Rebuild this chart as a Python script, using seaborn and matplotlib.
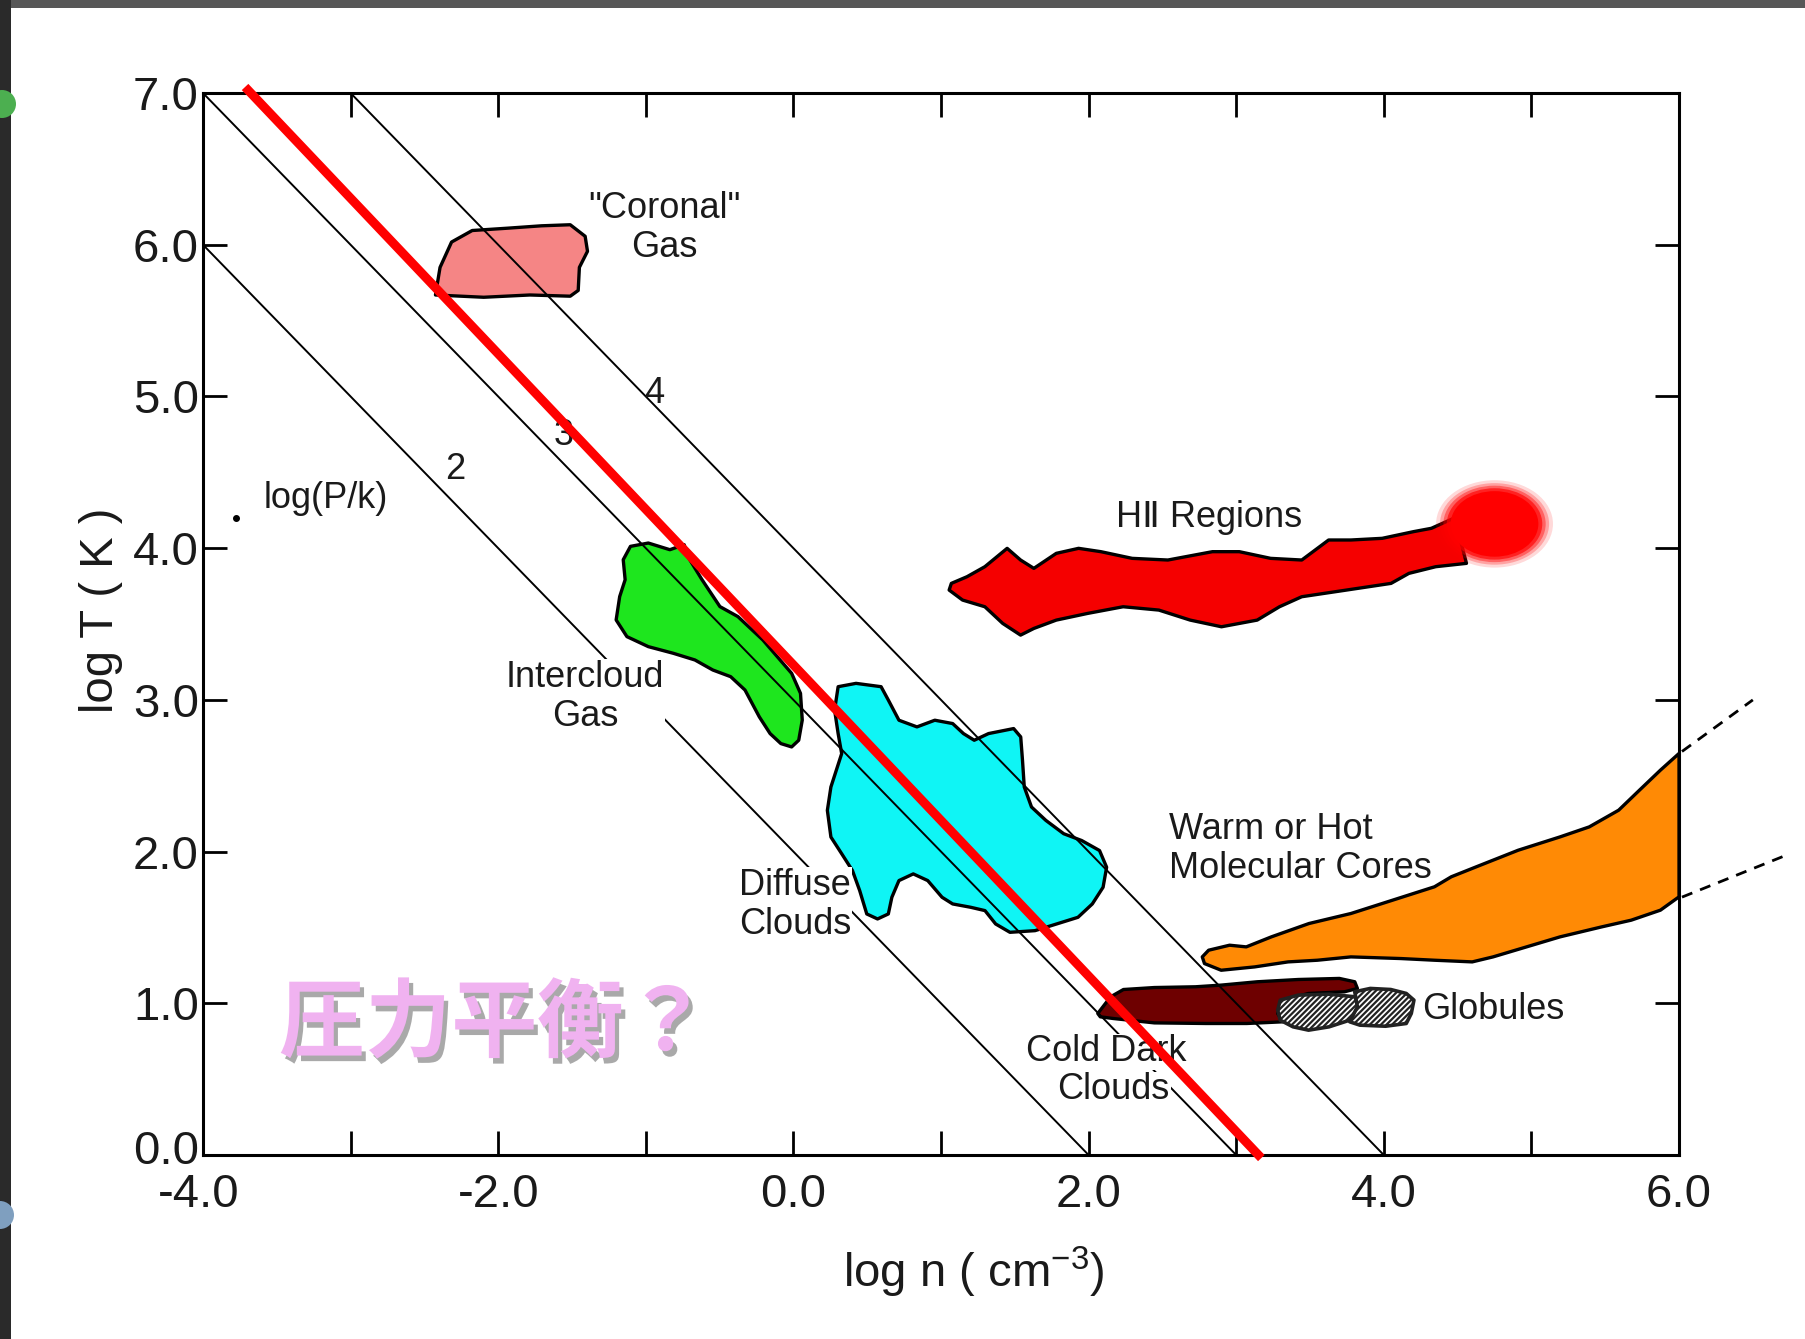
import matplotlib
matplotlib.use("Agg")
import matplotlib.pyplot as plt
import matplotlib.patheffects as pe
from matplotlib.patches import Ellipse, Rectangle, Circle
from matplotlib.transforms import IdentityTransform, ScaledTranslation
from matplotlib import font_manager as fm
import seaborn as sns

# ---------------- data ----------------
x_ticks = [-4, -3, -2, -1, 0, 1, 2, 3, 4, 5, 6]
x_ticklabels = ["-4.0", "", "-2.0", "", "0.0", "", "2.0", "", "4.0", "", "6.0"]
y_ticks = [0, 1, 2, 3, 4, 5, 6, 7]
y_ticklabels = ["0.0", "1.0", "2.0", "3.0", "4.0", "5.0", "6.0", "7.0"]

# constant-pressure lines log(P/k) = 2, 3, 4
pk_labels = ["2", "3", "4"]
pk_n = [[-4.0, 2.0], [-4.0, 3.0], [-3.0, 4.0]]
pk_T = [[6.0, 0.0], [7.0, 0.0], [7.0, 0.0]]

# red "pressure balance" line
red_n = [-3.715, 3.17]
red_T = [7.04, -0.02]

coronal_n = [-2.425, -2.394, -2.316, -2.176, -1.941, -1.707, -1.512, -1.411, -1.395,
             -1.450, -1.458, -1.512, -1.785, -2.098]
coronal_T = [5.669, 5.851, 6.018, 6.094, 6.109, 6.125, 6.132, 6.056, 5.957,
             5.851, 5.699, 5.661, 5.669, 5.654]

intercloud_n = [-1.104, -0.983, -0.837, -0.740, -0.716, -0.619, -0.498, -0.376, -0.207,
                -0.012, 0.048, 0.060, 0.036, -0.012, -0.085, -0.158, -0.231, -0.328,
                -0.425, -0.546, -0.667, -0.813, -0.983, -1.128, -1.201, -1.177, -1.140, -1.153]
intercloud_T = [4.012, 4.034, 3.990, 4.023, 3.946, 3.792, 3.615, 3.549, 3.395,
                3.175, 3.043, 2.867, 2.734, 2.690, 2.712, 2.778, 2.888, 3.065,
                3.153, 3.197, 3.263, 3.307, 3.351, 3.417, 3.527, 3.681, 3.792, 3.924]

diffuse_n = [0.303, 0.424, 0.594, 0.643, 0.715, 0.837, 0.958, 1.079, 1.152, 1.225, 1.322,
             1.492, 1.540, 1.552, 1.564, 1.613, 1.710, 1.831, 1.953, 2.074, 2.122, 2.098,
             2.025, 1.928, 1.783, 1.637, 1.467, 1.370, 1.298, 1.201, 1.079, 1.007, 0.910,
             0.812, 0.715, 0.667, 0.643, 0.570, 0.497, 0.449, 0.400, 0.327, 0.254, 0.230,
             0.254, 0.327, 0.303, 0.279]
diffuse_T = [3.087, 3.109, 3.087, 2.999, 2.866, 2.822, 2.866, 2.844, 2.778, 2.734, 2.778,
             2.811, 2.756, 2.602, 2.426, 2.294, 2.206, 2.118, 2.073, 2.007, 1.897, 1.765,
             1.655, 1.567, 1.523, 1.479, 1.468, 1.523, 1.611, 1.633, 1.655, 1.699, 1.809,
             1.853, 1.809, 1.699, 1.589, 1.556, 1.589, 1.743, 1.875, 1.986, 2.096, 2.272,
             2.426, 2.646, 2.778, 2.933]

hii_n = [1.070, 1.176, 1.297, 1.448, 1.539, 1.629, 1.781, 1.932, 2.083, 2.295, 2.537,
         2.839, 3.021, 3.233, 3.444, 3.626, 3.777, 3.989, 4.201, 4.322, 4.480, 4.560,
         4.352, 4.170, 4.049, 3.747, 3.444, 3.293, 3.142, 2.900, 2.688, 2.476, 2.234,
         1.993, 1.781, 1.629, 1.539, 1.418, 1.297, 1.146, 1.055]
hii_T = [3.768, 3.812, 3.878, 3.999, 3.922, 3.867, 3.966, 3.999, 3.977, 3.933, 3.922,
         3.977, 3.977, 3.933, 3.922, 4.054, 4.054, 4.065, 4.109, 4.131, 4.200, 3.900,
         3.878, 3.834, 3.768, 3.724, 3.680, 3.614, 3.526, 3.482, 3.526, 3.592, 3.614,
         3.570, 3.526, 3.471, 3.427, 3.504, 3.614, 3.658, 3.724]
hii_spot_n = 4.75
hii_spot_T = 4.16

cores_n = [2.813, 2.955, 3.068, 3.238, 3.493, 3.777, 4.060, 4.343, 4.457, 4.627, 4.910,
           5.194, 5.392, 5.591, 5.732, 5.874, 6.000, 6.000, 5.874, 5.676, 5.477, 5.194,
           4.967, 4.740, 4.599, 4.343, 4.117, 3.777, 3.550, 3.351, 3.125, 2.898, 2.785, 2.770]
cores_T = [1.350, 1.383, 1.372, 1.438, 1.526, 1.592, 1.680, 1.768, 1.834, 1.900, 2.009,
           2.097, 2.163, 2.273, 2.405, 2.537, 2.647, 1.702, 1.614, 1.548, 1.504, 1.438,
           1.372, 1.306, 1.273, 1.284, 1.295, 1.306, 1.284, 1.273, 1.240, 1.218, 1.262, 1.306]
cores_ext_upper_n = [6.02, 6.50]
cores_ext_upper_T = [2.66, 3.00]
cores_ext_lower_n = [6.02, 6.71]
cores_ext_lower_T = [1.70, 1.97]

dark_n = [2.062, 2.149, 2.236, 2.445, 2.724, 2.898, 3.142, 3.420, 3.699, 3.803, 3.821,
          3.734, 3.490, 3.316, 3.281, 3.316, 3.072, 2.793, 2.445, 2.166, 2.079]
dark_T = [0.933, 1.043, 1.091, 1.104, 1.109, 1.120, 1.142, 1.157, 1.164, 1.142, 1.098,
          1.076, 1.065, 1.021, 0.933, 0.878, 0.867, 0.867, 0.871, 0.900, 0.911]

glob1_n = [3.298, 3.420, 3.629, 3.803, 3.838, 3.769, 3.629, 3.490, 3.385, 3.298, 3.281]
glob1_T = [1.021, 1.054, 1.060, 1.043, 0.977, 0.889, 0.845, 0.823, 0.845, 0.889, 0.955]
glob2_n = [3.803, 3.908, 4.047, 4.152, 4.204, 4.186, 4.152, 4.012, 3.838, 3.769, 3.821]
glob2_T = [1.076, 1.098, 1.091, 1.065, 1.021, 0.933, 0.867, 0.849, 0.856, 0.878, 0.977]

# ---------------- style ----------------
sns.set_theme(style="white")
names = {f.name for f in fm.fontManager.ttflist}
REG = "Liberation Sans" if "Liberation Sans" in names else "DejaVu Sans"
NARROW = "Liberation Sans Narrow" if "Liberation Sans Narrow" in names else REG
plt.rcParams["font.family"] = [REG, "DejaVu Sans"]
plt.rcParams["hatch.linewidth"] = 1.6
plt.rcParams["mathtext.fontset"] = "custom"
plt.rcParams["mathtext.rm"] = REG
plt.rcParams["mathtext.it"] = REG

fig = plt.figure(figsize=(18.06, 13.39), dpi=100)
fig.patch.set_facecolor("white")

# slide frame remnants
fig.patches.append(Rectangle((0, 1 - 8 / 1339), 1, 8 / 1339, transform=fig.transFigure,
                             facecolor="#575757", edgecolor="none", zorder=0))
fig.patches.append(Rectangle((0, 0), 11 / 1806, 1, transform=fig.transFigure,
                             facecolor="#2a2a2a", edgecolor="none", zorder=0))
fig.patches.append(Circle((2, 1339 - 104), 14, transform=IdentityTransform(),
                          facecolor="#4caf50", edgecolor="none", zorder=1))
fig.patches.append(Circle((0, 1339 - 1215), 14, transform=IdentityTransform(),
                          facecolor="#7f9fbf", edgecolor="none", zorder=1))

ax = fig.add_axes([0.1124, 0.1374, 0.8173, 0.7931])
ax.set_facecolor("white")

# filled regions
fills = [
    (coronal_n, coronal_T, "#F58585"),
    (intercloud_n, intercloud_T, "#1EE61E"),
    (diffuse_n, diffuse_T, "#0FF5F5"),
    (hii_n, hii_T, "#F50000"),
    (cores_n, cores_T, "#FF8A05"),
    (dark_n, dark_T, "#6E0000"),
]
for n, T, c in fills:
    ax.fill(n, T, facecolor=c, edgecolor="black", lw=2.4, zorder=1, joinstyle="round")

for n, T in [(glob1_n, glob1_T), (glob2_n, glob2_T)]:
    ax.fill(n, T, facecolor="white", edgecolor="#222222", hatch="//////", lw=2.6,
            zorder=1.5, joinstyle="round")

# fuzzy painted spot at the end of the HII region
for k, a in zip([1.2, 1.12, 1.05, 0.98, 0.9], [0.15, 0.25, 0.4, 0.65, 1.0]):
    ax.add_patch(Ellipse((hii_spot_n, hii_spot_T), 0.66 * k, 0.48 * k,
                         facecolor="#FF0000", edgecolor="none", alpha=a, zorder=1.2))

# constant-pressure lines
for n, T in zip(pk_n, pk_T):
    sns.lineplot(x=n, y=T, color="black", lw=1.4, ax=ax, zorder=2)

for n, T in [(cores_ext_upper_n, cores_ext_upper_T), (cores_ext_lower_n, cores_ext_lower_T)]:
    ax.plot(n, T, color="black", lw=2.0, ls=(0, (4, 3)), clip_on=False, zorder=2)

# red line
sns.lineplot(x=red_n, y=red_T, color="#FF0000", lw=6.5, ax=ax, zorder=5,
             solid_capstyle="butt")
ax.lines[-1].set_clip_on(False)

# labels inside the plot
lab = dict(fontsize=26, family=[NARROW, "DejaVu Sans"], color="#1a1a1a", zorder=3,
           linespacing=1.15)
wb = dict(facecolor="white", edgecolor="none", pad=0.5)
ax.text(-0.873, 6.11, "\"Coronal\"\nGas", ha="center", va="center", **lab)
ax.text(-0.944, 5.02, pk_labels[2], ha="center", va="center", **lab)
ax.text(-1.554, 4.74, pk_labels[1], ha="center", va="center", **lab)
ax.text(-2.293, 4.52, pk_labels[0], ha="center", va="center", **lab)
ax.text(-3.167, 4.33, "log(P/k)", ha="center", va="center", **lab)
ax.plot([-3.776], [4.198], marker="o", ms=4, color="black", zorder=3)
ax.text(2.817, 4.20, "HⅡ Regions", ha="center", va="center", **lab)
ax.text(-1.412, 3.02, "Intercloud\nGas", ha="center", va="center", bbox=wb, **lab)
ax.text(0.010, 1.647, "Diffuse\nClouds", ha="center", va="center", bbox=wb, **lab)
ax.text(2.545, 2.016, "Warm or Hot\nMolecular Cores", ha="left", va="center", **lab)
ax.text(4.262, 0.962, "Globules", ha="left", va="center", **lab)
ax.text(2.12, 0.68, "Cold Dark", ha="center", va="center", bbox=wb, **lab)
ax.text(2.17, 0.43, "Clouds", ha="center", va="center", bbox=wb, **lab)

ax.text(-3.485, 0.856, "圧力平衡？", ha="left", va="center", fontsize=62,
        fontweight="bold", color="#F0B2F0", zorder=6,
        family=["Noto Sans CJK JP", "DejaVu Sans"],
        path_effects=[pe.withSimplePatchShadow(offset=(3, -4), shadow_rgbFace="#555555",
                                               alpha=0.5)])

# axes
ax.set_xlim(-4, 6)
ax.set_ylim(0, 7)
ax.set_xticks(x_ticks)
ax.set_xticklabels(x_ticklabels)
ax.set_yticks(y_ticks)
ax.set_yticklabels(y_ticklabels)
ax.tick_params(axis="both", which="major", direction="in", length=17, width=2.0,
               color="black", labelsize=34, labelcolor="#1a1a1a",
               top=True, right=True, bottom=True, left=True)
ax.tick_params(axis="x", pad=13)
ax.tick_params(axis="y", pad=3)
for s in ax.spines.values():
    s.set_visible(True)
    s.set_color("black")
    s.set_linewidth(2.2)

# keep the "0.0" and "-4.0" corner labels from colliding
y0 = ax.get_yticklabels()[0]
y0.set_transform(y0.get_transform() + ScaledTranslation(0, 6 / 72, fig.dpi_scale_trans))
x0 = ax.get_xticklabels()[0]
x0.set_transform(x0.get_transform() + ScaledTranslation(-3 / 72, 0, fig.dpi_scale_trans))

ax.set_xlabel("log n ( cm$^{-3}$)", fontsize=34, color="#1a1a1a")
ax.set_ylabel("log T ( K )", fontsize=34, color="#1a1a1a")
ax.xaxis.set_label_coords(0.522, -0.111)
ax.xaxis.label.set_va("center")
ax.yaxis.set_label_coords(-0.069, 0.513)
ax.yaxis.label.set_va("center")
ax.grid(False)

fig.savefig("out.png", dpi=100, facecolor=fig.get_facecolor())
